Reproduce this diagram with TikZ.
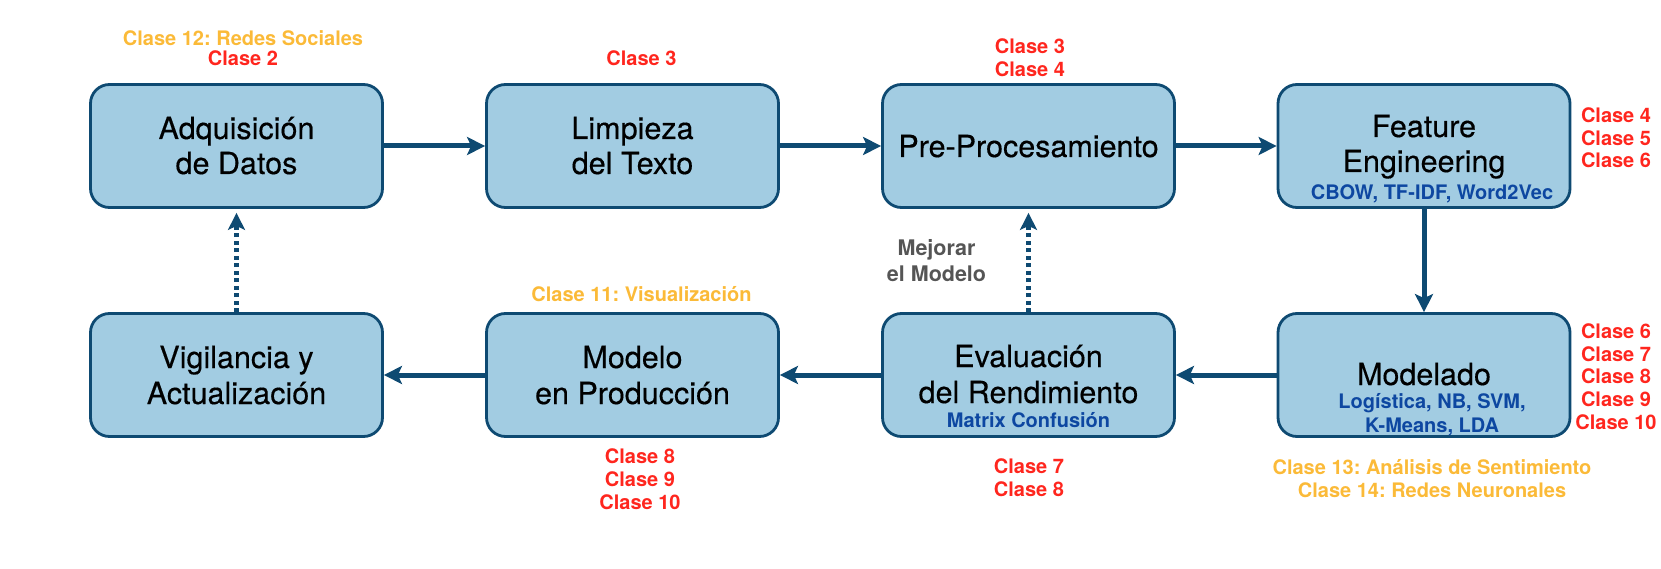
\documentclass[tikz,border=0pt]{standalone}
\usepackage{fontspec}
\setmainfont{TeX Gyre Heros}
\newfontfamily\boxfont[FakeBold=0.35]{TeX Gyre Heros}
\frenchspacing
\usetikzlibrary{arrows.meta}
\definecolor{boxfill}{RGB}{162,204,226}
\definecolor{boxline}{RGB}{14,74,114}
\definecolor{subblue}{RGB}{13,71,161}
\definecolor{clsred}{RGB}{255,38,30}
\definecolor{clsorange}{RGB}{251,186,56}
\definecolor{mejgray}{RGB}{85,85,85}
\begin{document}
\begin{tikzpicture}[x=1pt,y=-1pt,
  stagebox/.style={draw=boxline, fill=boxfill, line width=2.8pt, rounded corners=19pt,
    minimum width=292pt, minimum height=123pt, inner sep=0pt},
  maintxt/.style={anchor=base, inner sep=0pt, font=\boxfont\fontsize{30.5}{35}\selectfont},
  subtxt/.style={anchor=base, inner sep=0pt, text=subblue, font=\bfseries\fontsize{20}{23}\selectfont},
  redtxt/.style={anchor=base, inner sep=0pt, text=clsred, font=\bfseries\fontsize{20}{23}\selectfont},
  orgtxt/.style={anchor=base, inner sep=0pt, text=clsorange, font=\bfseries\fontsize{20}{23}\selectfont},
  graytxt/.style={anchor=base, inner sep=0pt, text=mejgray, font=\bfseries\fontsize{21.5}{26}\selectfont},
  flow/.style={draw=boxline, line width=5pt, -{Stealth[length=18pt,width=18pt,inset=4pt]}},
  feedback/.style={draw=boxline, line width=4.5pt, dash pattern=on 4pt off 3.5pt,
    -{Stealth[length=17pt,width=17pt,inset=4pt]}, shorten >=4pt}
]
\useasboundingbox (0,0) rectangle (1661,569);

% boxes
\node[stagebox] (adq) at (236.5,146) {};
\node[stagebox] (lim) at (632.5,146) {};
\node[stagebox] (pre) at (1028.5,146) {};
\node[stagebox] (fea) at (1424,146) {};
\node[stagebox] (mod) at (1424,375) {};
\node[stagebox] (eva) at (1028.5,375) {};
\node[stagebox] (pro) at (632.5,375) {};
\node[stagebox] (vig) at (236.5,375) {};

% main texts
\node[maintxt] (adq1) at (236.5,139) {Adquisición};
\node[maintxt] (adq2) at (236.5,174) {de Datos};
\node[maintxt] (lim1) at (632.5,139) {Limpieza};
\node[maintxt] (lim2) at (632.5,174) {del Texto};
\node[maintxt] (pre1) at (1028.5,157) {Pre-Procesamiento};
\node[maintxt] (fea1) at (1424,137) {Feature};
\node[maintxt] (fea2) at (1424,172) {Engineering};
\node[subtxt]  (fea3) at (1432,200) {CBOW, TF-IDF, Word2Vec};
\node[maintxt] (mod1) at (1424,385) {Modelado};
\node[subtxt]  (mod2) at (1432,408) {Logística, NB, SVM,};
\node[subtxt]  (mod3) at (1432,432) {K-Means, LDA};
\node[maintxt] (eva1) at (1028.5,367) {Evaluación};
\node[maintxt] (eva2) at (1028.5,403) {del Rendimiento};
\node[subtxt]  (eva3) at (1028.5,427) {Matrix Confusión};
\node[maintxt] (pro1) at (632.5,368) {Modelo};
\node[maintxt] (pro2) at (632.5,404) {en Producción};
\node[maintxt] (vig1) at (236.5,368) {Vigilancia y};
\node[maintxt] (vig2) at (236.5,404) {Actualización};

% class labels
\node[orgtxt] (c12) at (243,46) {Clase 12: Redes Sociales};
\node[redtxt] (c2) at (243,66) {Clase 2};
\node[redtxt] (c3a) at (641.5,66) {Clase 3};
\node[redtxt] (c3b) at (1030,54) {Clase 3};
\node[redtxt] (c4b) at (1030,77) {Clase 4};
\node[redtxt] (f4) at (1616,123) {Clase 4};
\node[redtxt] (f5) at (1616,146) {Clase 5};
\node[redtxt] (f6) at (1616,168) {Clase 6};
\node[redtxt] (m6) at (1616,338) {Clase 6};
\node[redtxt] (m7) at (1616,361) {Clase 7};
\node[redtxt] (m8) at (1616,383) {Clase 8};
\node[redtxt] (m9) at (1616,406) {Clase 9};
\node[redtxt] (m10) at (1616,429) {Clase 10};
\node[orgtxt] (c13) at (1432,474) {Clase 13: Análisis de Sentimiento};
\node[orgtxt] (c14) at (1432,497) {Clase 14: Redes Neuronales};
\node[redtxt] (e7) at (1029,473) {Clase 7};
\node[redtxt] (e8) at (1029,496) {Clase 8};
\node[redtxt] (p8) at (640,463) {Clase 8};
\node[redtxt] (p9) at (640,486) {Clase 9};
\node[redtxt] (p10) at (640,509) {Clase 10};
\node[orgtxt] (c11) at (641.5,301) {Clase 11: Visualización};
\node[graytxt] (mej1) at (936.5,255) {Mejorar};
\node[graytxt] (mej2) at (936.5,281) {el Modelo};

% connectors
\draw[flow] (adq) -- (lim);
\draw[flow] (lim) -- (pre);
\draw[flow] (pre) -- (fea);
\draw[flow] (fea) -- (mod);
\draw[flow] (mod) -- (eva);
\draw[flow] (eva) -- (pro);
\draw[flow] (pro) -- (vig);
\draw[feedback] (vig) -- (adq);
\draw[feedback] (eva) -- (pre);
\end{tikzpicture}
\end{document}
